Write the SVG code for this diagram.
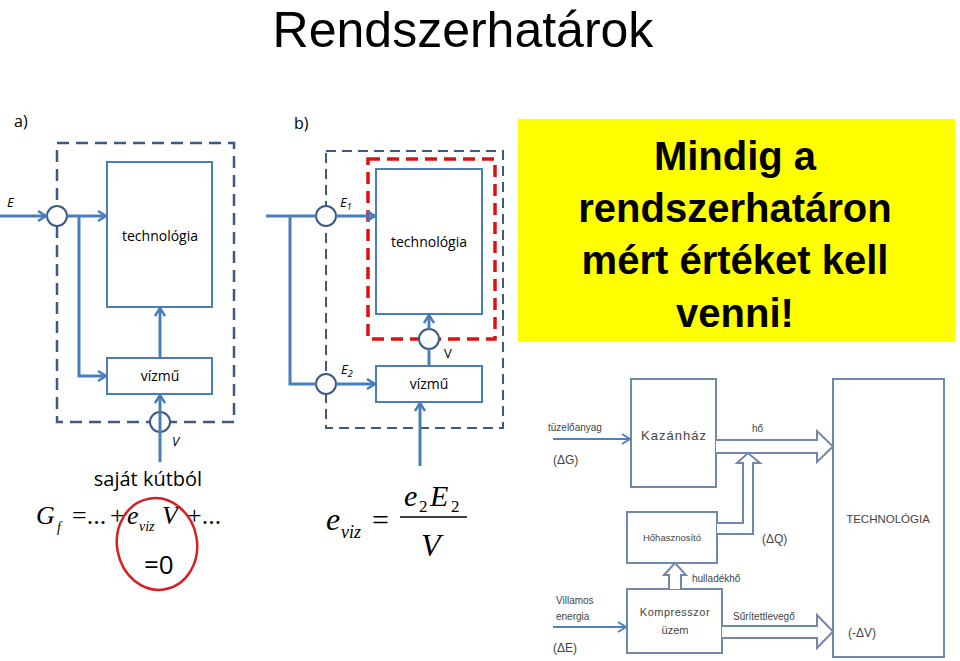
<svg xmlns="http://www.w3.org/2000/svg" width="960" height="661" viewBox="0 0 960 661">
<defs>
<marker id="ah" markerWidth="12" markerHeight="12" viewBox="0 0 12 12" refX="10" refY="6" orient="auto" markerUnits="userSpaceOnUse">
<path d="M2,1 L10,6 L2,11" fill="none" stroke="#4a7ebb" stroke-width="2.5"/>
</marker>
<marker id="ah2" markerWidth="12" markerHeight="12" viewBox="0 0 12 12" refX="10" refY="6" orient="auto" markerUnits="userSpaceOnUse">
<path d="M2,1 L10,6 L2,11" fill="none" stroke="#4f81bd" stroke-width="2"/>
</marker>
</defs>
<style>
.ln{stroke:#4a7ebb;stroke-width:3;fill:none}
.bx{stroke:#4a7ebb;stroke-width:2;fill:#fff}
.dash{stroke:#3c5a85;stroke-width:2.5;fill:none;stroke-dasharray:12 7}
.dash2{stroke:#3c5a85;stroke-width:2;fill:none;stroke-dasharray:10 6}
.red{stroke:#e01010;stroke-width:3.5;fill:none;stroke-dasharray:12 7}
.cir{stroke:#3c5a85;stroke-width:2;fill:#fff}
.t{font-family:"Open Sans","Noto Sans",sans-serif;fill:#000}
.m{font-family:"Liberation Serif",serif;fill:#000;font-style:italic}
.s{font-family:"Liberation Serif",serif;fill:#000}
.rb{stroke:#7088aa;stroke-width:2;fill:#fff}
.rt{font-family:"Liberation Sans",sans-serif;fill:#444}
.hol{stroke:#7088aa;stroke-width:2;fill:#fff;stroke-linejoin:miter}
</style>

<text x="463" y="47" text-anchor="middle" font-family="Liberation Sans,sans-serif" font-size="50" fill="#000">Rendszerhatárok</text>

<!-- a) -->
<text x="14" y="127" class="t" font-size="16">a)</text>
<rect x="57" y="143" width="177" height="279" class="dash"/>
<g id="a-tech"><rect x="107" y="162" width="105" height="145" class="bx"/><text x="160" y="241" text-anchor="middle" class="t" font-size="14">technológia</text></g>
<g id="a-vizmu"><rect x="107" y="358" width="105" height="36" class="bx"/><text x="160" y="381" text-anchor="middle" class="t" font-size="14">vízmű</text></g>
<g id="a-c1"><circle cx="57" cy="216" r="10" class="cir"/></g>
<g id="a-c2"><circle cx="160" cy="422" r="10" class="cir"/></g>
<g id="a-conn">
<line x1="0" y1="216" x2="46" y2="216" class="ln" marker-end="url(#ah)"/>
<line x1="67" y1="216" x2="106" y2="216" class="ln" marker-end="url(#ah)"/>
<polyline points="79,216 79,376 106,376" class="ln" marker-end="url(#ah)"/>
<line x1="160" y1="358" x2="160" y2="308" class="ln" marker-end="url(#ah)"/>
<line x1="160" y1="462" x2="160" y2="395" class="ln" marker-end="url(#ah)"/>
</g>
<text x="7" y="207" class="t" font-size="13" font-style="italic">E</text>
<text x="172" y="446" class="t" font-size="13" font-style="italic">V</text>

<text x="148" y="486" text-anchor="middle" class="t" font-size="20">saját kútból</text>
<text x="36" y="524" class="m" font-size="26">G</text>
<text x="57" y="532" class="m" font-size="14">f</text>
<text x="72" y="524" class="s" font-size="26">=...</text>
<text x="110" y="524" class="s" font-size="26">+</text>
<text x="127" y="524" class="m" font-size="26">e</text>
<text x="139" y="531" class="m" font-size="14">viz</text>
<text x="162" y="524" class="m" font-size="26">V</text>
<text x="187" y="524" class="s" font-size="26">+...</text>
<text x="144" y="574" class="t" font-size="26">=0</text>
<ellipse cx="157" cy="544" rx="40" ry="46" transform="rotate(-10 157 544)" fill="none" stroke="#d42020" stroke-width="2.5"/>

<!-- b) -->
<text x="294" y="129" class="t" font-size="16">b)</text>
<rect x="326" y="151" width="177" height="277" class="dash2"/>
<rect x="368" y="159" width="127" height="180" class="red"/>
<g id="b-tech"><rect x="376" y="169" width="106" height="145" class="bx"/><text x="429" y="247" text-anchor="middle" class="t" font-size="14">technológia</text></g>
<g id="b-vizmu"><rect x="376" y="366" width="106" height="36" class="bx"/><text x="429" y="389" text-anchor="middle" class="t" font-size="14">vízmű</text></g>
<g id="b-c1"><circle cx="326" cy="216" r="10" class="cir"/></g>
<g id="b-c2"><circle cx="326" cy="384" r="10" class="cir"/></g>
<g id="b-c3"><circle cx="429" cy="339" r="10" class="cir"/></g>
<g id="b-conn">
<line x1="266" y1="216" x2="316" y2="216" class="ln"/>
<polyline points="290,216 290,384 316,384" class="ln"/>
<line x1="336" y1="216" x2="375" y2="216" class="ln" marker-end="url(#ah)"/>
<line x1="336" y1="384" x2="375" y2="384" class="ln" marker-end="url(#ah)"/>
<line x1="429" y1="366" x2="429" y2="349" class="ln"/>
<line x1="429" y1="329" x2="429" y2="315" class="ln" marker-end="url(#ah)"/>
<line x1="420" y1="466" x2="420" y2="403" class="ln" marker-end="url(#ah)"/>
</g>
<text x="340" y="207" class="t" font-size="13" font-style="italic">E<tspan font-size="9" dy="3">1</tspan></text>
<text x="341" y="374" class="t" font-size="13" font-style="italic">E<tspan font-size="9" dy="3">2</tspan></text>
<text x="444" y="358" class="t" font-size="13">V</text>

<text x="326" y="530" class="m" font-size="32">e</text>
<text x="341" y="538" class="m" font-size="18">viz</text>
<text x="372" y="530" class="s" font-size="30">=</text>
<text x="404" y="506" class="m" font-size="30">e</text>
<text x="419" y="512" class="s" font-size="17">2</text>
<text x="430" y="506" class="m" font-size="30">E</text>
<text x="451" y="512" class="s" font-size="17">2</text>
<line x1="400" y1="517" x2="467" y2="517" stroke="#000" stroke-width="1.5"/>
<text x="421" y="556" class="m" font-size="32">V</text>

<!-- yellow note -->
<rect x="518" y="119" width="437" height="223" fill="#ffff00"/>
<g font-family="Liberation Sans,sans-serif" font-weight="bold" font-size="40" text-anchor="middle" fill="#000">
<text x="735" y="170">Mindig a</text>
<text x="735" y="222">rendszerhatáron</text>
<text x="735" y="274">mért értéket kell</text>
<text x="735" y="327">venni!</text>
</g>

<!-- right diagram -->
<g id="r-kazan"><rect x="631" y="379" width="85" height="108" class="rb"/><text x="674" y="440" text-anchor="middle" class="rt" font-size="13" letter-spacing="1">Kazánház</text></g>
<g id="r-hohasz"><rect x="627" y="512" width="90" height="51" class="rb"/><text x="672" y="541" text-anchor="middle" class="rt" font-size="9.5">Hőhasznosító</text></g>
<g id="r-komp"><rect x="627" y="589" width="95" height="64" class="rb"/><text x="675" y="616" text-anchor="middle" class="rt" font-size="11" letter-spacing="0.5">Kompresszor</text><text x="675" y="634" text-anchor="middle" class="rt" font-size="11">üzem</text></g>
<g id="r-tech"><rect x="833" y="379" width="111" height="278" class="rb"/><text x="888" y="523" text-anchor="middle" class="rt" font-size="11.5">TECHNOLÓGIA</text></g>
<g id="r-conn">
<line x1="553" y1="439" x2="630" y2="439" stroke="#4f81bd" stroke-width="2" marker-end="url(#ah2)"/>
<line x1="553" y1="627" x2="626" y2="627" stroke="#4f81bd" stroke-width="2" marker-end="url(#ah2)"/>
<path d="M716,440 L817,440 L817,431 L833,446.5 L817,462 L817,453 L716,453" class="hol"/>
<path d="M717,523 L743,523 L743,463 L737,463 L748,453 L760,463 L753,463 L753,534 L717,534" class="hol"/>
<path d="M722,626 L817,626 L817,615 L833,631.5 L817,648 L817,638 L722,638" class="hol"/>
<path d="M669,589 L669,575 L664,575 L675,563 L686,575 L681,575 L681,589" class="hol"/>
</g>
<g class="rt" font-size="10">
<text x="548" y="431">tüzelőanyag</text>
<text x="553" y="464" font-size="12">(ΔG)</text>
<text x="752" y="432">hő</text>
<text x="762" y="543" font-size="12">(ΔQ)</text>
<text x="692" y="582">hulladékhő</text>
<text x="556" y="604">Villamos</text>
<text x="556" y="620">energia</text>
<text x="553" y="652" font-size="12">(ΔE)</text>
<text x="733" y="620">Sűrítettlevegő</text>
<text x="848" y="637" font-size="12">(-ΔV)</text>
</g>
</svg>
